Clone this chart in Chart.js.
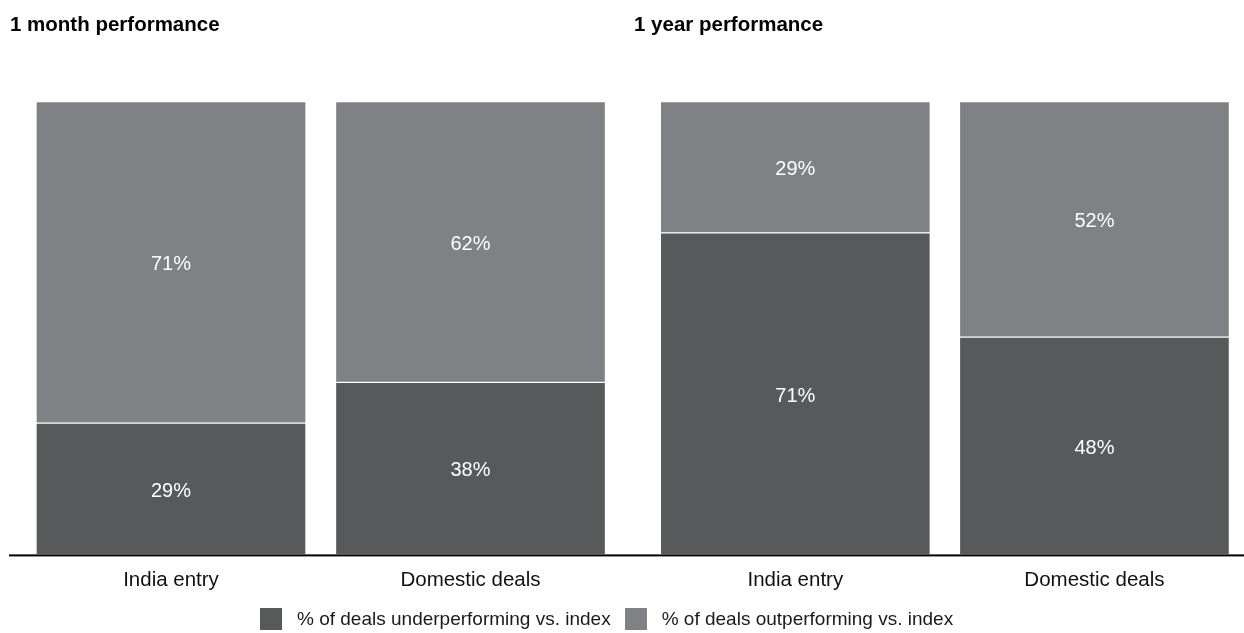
<!DOCTYPE html>
<html>
<head>
<meta charset="utf-8">
<title>Deal performance vs. index</title>
<script src="https://cdn.jsdelivr.net/npm/chart.js@4.4.1/dist/chart.umd.min.js"></script>
<style>
  html, body { margin: 0; padding: 0; background: #fff; }
  body { width: 1244px; height: 633px; position: relative; overflow: hidden;
         font-family: "Liberation Sans", Arial, sans-serif; }
  .panel { position: absolute; top: 0; height: 633px; }
  #panel-month { left: 0; width: 624px; }
  #panel-year { left: 624px; width: 620px; }
  #legend { position: absolute; left: 260px; top: 608px; display: flex; align-items: center;
            font-size: 19px; line-height: 22px; color: #1a1a1a; white-space: nowrap; }
  #legend .item { display: flex; align-items: center; }
  #legend .item + .item { margin-left: 14px; }
  #legend .box { width: 22px; height: 22px; margin-right: 15px; }
</style>
</head>
<body>
<div class="panel" id="panel-month"><canvas id="chart-month"></canvas></div>
<div class="panel" id="panel-year"><canvas id="chart-year"></canvas></div>
<div id="legend"></div>

<script>
(function () {
  "use strict";

  // ---- data ----
  const CATEGORIES = ["India entry", "Domestic deals"];
  const SERIES = ["% of deals underperforming vs. index", "% of deals outperforming vs. index"];
  const MONTH_UNDER = [29, 38];
  const MONTH_OUT = [71, 62];
  const YEAR_UNDER = [71, 48];
  const YEAR_OUT = [29, 52];

  const COLORS = { under: "#58595b", out: "#808184" };
  const FONT = "'Liberation Sans', Arial, sans-serif";

  Chart.defaults.font.family = FONT;
  Chart.defaults.animation = false;

  // white % labels centred in every segment (alphabetic baseline so caps sit on the middle)
  const valueLabels = {
    id: "valueLabels",
    afterDatasetsDraw(chart) {
      const ctx = chart.ctx;
      ctx.save();
      ctx.fillStyle = "#fff";
      ctx.font = "20px " + FONT;
      ctx.textAlign = "center";
      ctx.textBaseline = "alphabetic";
      chart.data.datasets.forEach((ds, di) => {
        chart.getDatasetMeta(di).data.forEach((bar, i) => {
          const p = bar.getProps(["x", "y", "base"], true);
          ctx.fillText(ds.data[i] + "%", p.x, (p.y + p.base) / 2 + 8);
        });
      });
      ctx.restore();
    },
  };

  // continuous baseline under the bars, running across the canvas
  const baseline = {
    id: "baseline",
    afterDatasetsDraw(chart, args, opts) {
      const y0 = chart.scales.y.getPixelForValue(0);
      const ctx = chart.ctx;
      ctx.save();
      ctx.fillStyle = "#000";
      ctx.fillRect(opts.from, y0, opts.to - opts.from, 2);
      ctx.restore();
    },
  };

  function makeChart(id, title, under, out, yAxisWidth, padRight, line) {
    return new Chart(document.getElementById(id).getContext("2d"), {
      type: "bar",
      data: {
        labels: CATEGORIES,
        datasets: [
          { label: SERIES[0], data: under, backgroundColor: COLORS.under,
            borderColor: "#fff", borderWidth: 1, borderSkipped: "start", barThickness: 270 },
          { label: SERIES[1], data: out, backgroundColor: COLORS.out,
            borderColor: "#fff", borderWidth: 1, borderSkipped: false, barThickness: 270 },
        ],
      },
      options: {
        responsive: true, maintainAspectRatio: false,
        layout: { padding: { left: 10, right: padRight, top: 0, bottom: 26 } },
        plugins: {
          legend: { display: false },
          tooltip: { enabled: false },
          title: {
            display: true, text: title, align: "start", color: "#000",
            font: { size: 20.5, weight: "bold" }, padding: { top: 13, bottom: 64 },
          },
          baseline: line,
        },
        scales: {
          x: {
            stacked: true,
            grid: { display: false, drawTicks: false },
            border: { display: false },
            ticks: { color: "#111", font: { size: 20.5 }, padding: 14 },
          },
          y: {
            stacked: true, min: 0, max: 100,
            grid: { display: false, drawTicks: false },
            border: { display: false },
            ticks: { display: false },
            afterFit: (scale) => { scale.width = yAxisWidth; },
          },
        },
      },
      plugins: [valueLabels, baseline],
    });
  }

  makeChart("chart-month", "1 month performance", MONTH_UNDER, MONTH_OUT, 11.25, 3.75, { from: 9, to: 624 });
  makeChart("chart-year", "1 year performance", YEAR_UNDER, YEAR_OUT, 11.75, 0, { from: 0, to: 620 });

  // shared legend under both panels
  document.getElementById("legend").innerHTML = SERIES.map((s, i) =>
    `<div class="item"><span class="box" style="background:${i ? COLORS.out : COLORS.under}"></span>${s}</div>`
  ).join("");
})();
</script>
</body>
</html>
